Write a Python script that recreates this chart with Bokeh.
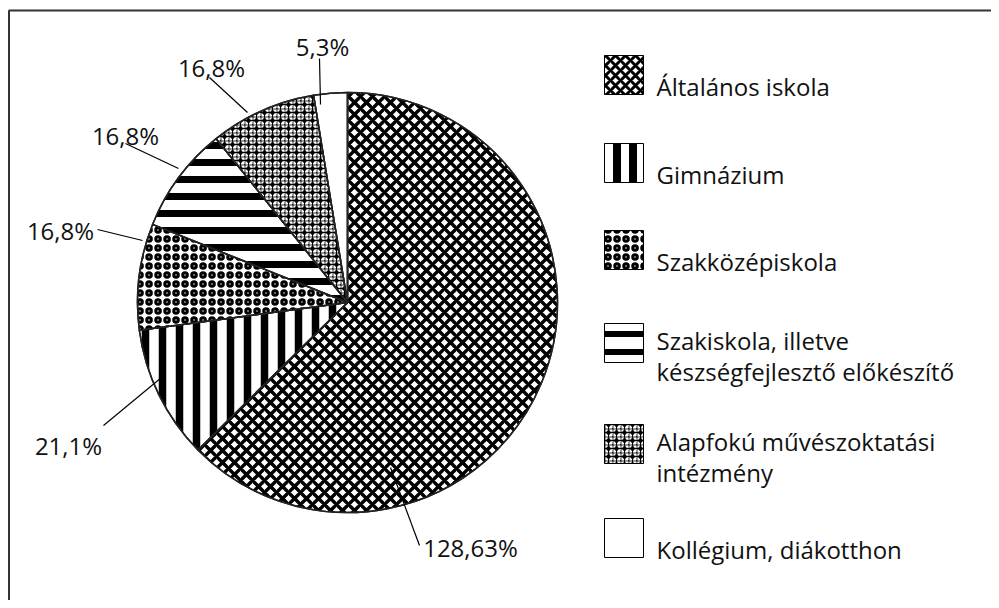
import numpy as np
from bokeh.plotting import figure
from bokeh.models import ColumnDataSource, Range1d
from bokeh.core.properties import value
from bokeh.embed import file_html
from bokeh.resources import INLINE

# ---- data ----
categories = ["Általános iskola", "Gimnázium", "Szakközépiskola",
              "Szakiskola, illetve\nkészségfejlesztő előkészítő",
              "Alapfokú művészoktatási\nintézmény", "Kollégium, diákotthon"]
values = [128.63, 21.1, 16.8, 16.8, 16.8, 5.3]
value_labels = ["128,63%", "21,1%", "16,8%", "16,8%", "16,8%", "5,3%"]

# ---- styles ----
patterns = ["diagonal_cross", "vertical_line", "ring", "horizontal_line", "ring", "blank"]
fills = ["white", "white", "white", "white", "black", "white"]
hcolors = ["black", "black", "black", "black", "white", "black"]
overlay = ["blank", "blank", "blank", "blank", "cross", "blank"]
hscales = [12, 17, 9, 17, 8, 10]
hweights = [3.4, 7.5, 3, 7, 3, 1]

W, H = 991, 600
def X(ix): return ix
def Y(iy): return H - iy

p = figure(width=W, height=H, output_backend="svg", toolbar_location=None,
           x_range=Range1d(0, W), y_range=Range1d(0, H), min_border=0,
           x_axis_location=None, y_axis_location=None, outline_line_color=None)
p.grid.visible = False
p.background_fill_color = "white"
p.border_fill_color = "white"

# frame lines (top and left)
p.segment(x0=[X(8), X(8.5)], y0=[Y(10), Y(600)], x1=[W, X(8.5)], y1=[Y(10), Y(10)],
          line_color="#333333", line_width=2)

# ---- pie ----
vals = np.array(values)
frac = vals / vals.sum()
cum = np.concatenate([[0], np.cumsum(frac)])
start = np.pi / 2 - 2 * np.pi * cum[:-1]
end = np.pi / 2 - 2 * np.pi * cum[1:]
cx, cy, r = X(347), Y(302), 210

src = ColumnDataSource(dict(x=[cx] * 6, y=[cy] * 6, start=start, end=end,
                            pat=patterns, fc=fills, hc=hcolors, ov=overlay,
                            hs=hscales, hw=hweights))
p.wedge(x="x", y="y", radius=r, start_angle="start", end_angle="end", direction="clock",
        source=src, fill_color="fc", line_color="#222222", line_width=1.5,
        hatch_pattern="pat", hatch_scale="hs", hatch_weight="hw", hatch_color="hc")
p.wedge(x="x", y="y", radius=r, start_angle="start", end_angle="end", direction="clock",
        source=src, fill_alpha=0, line_alpha=0,
        hatch_pattern="ov", hatch_scale="hs", hatch_weight=0.8, hatch_color="black")
p.wedge(x="x", y="y", radius=r, start_angle="start", end_angle="end", direction="clock",
        source=src, fill_alpha=0, line_color="#222222", line_width=1.5)

# ---- value labels with leader lines ----
lab_x = [470, 68, 60, 125, 211, 322]
lab_y = [547, 445, 230, 135, 67, 46]
lead_x0 = [419, 103, 97, 125, 209, 319]
lead_y0 = [545, 425, 229, 143, 77, 58]
lead_x1 = [390, 161, 142, 178, 247, 320]
lead_y1 = [467, 377, 240, 168, 112, 104]
p.segment(x0=[X(v) for v in lead_x0], y0=[Y(v) for v in lead_y0],
          x1=[X(v) for v in lead_x1], y1=[Y(v) for v in lead_y1],
          line_color="black", line_width=1.2)
p.text(x=[X(v) for v in lab_x], y=[Y(v) for v in lab_y], text=value_labels,
       text_font=value("Open Sans"), text_font_size="24px", text_color="#111111",
       text_align="center", text_baseline="middle")

# ---- legend ----
leg_top = [55, 143, 230, 323, 424, 518]
lsrc = ColumnDataSource(dict(x=[X(623.5)] * 6, y=[Y(t + 19.5) for t in leg_top],
                             pat=patterns, fc=fills, hc=hcolors, ov=overlay,
                             hs=[10, 16, 9, 18, 8, 10], hw=[3, 8, 3, 6, 3, 1]))
p.rect(x="x", y="y", width=39, height=39, source=lsrc, fill_color="fc",
       line_color="black", line_width=1, hatch_pattern="pat", hatch_scale="hs",
       hatch_weight="hw", hatch_color="hc")
p.rect(x="x", y="y", width=39, height=39, source=lsrc, fill_alpha=0, line_alpha=0,
       hatch_pattern="ov", hatch_scale="hs", hatch_weight=0.8, hatch_color="black")

tx, ty, tt = [], [], []
for cat, top in zip(categories, leg_top):
    lines = cat.split("\n")
    if len(lines) == 1:
        tx.append(X(656)); ty.append(Y(top + 31)); tt.append(lines[0])
    else:
        for i, ln in enumerate(lines):
            tx.append(X(656)); ty.append(Y(top + 17 + 31 * i)); tt.append(ln)
p.text(x=tx, y=ty, text=tt, text_font=value("Open Sans"), text_font_size="24px",
       text_color="#111111", text_align="left", text_baseline="alphabetic")

open("out.html", "w").write(file_html(p, INLINE))
